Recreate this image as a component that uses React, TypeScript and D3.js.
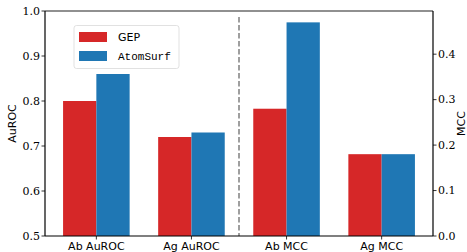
import React, { useEffect } from 'react';
import * as d3 from 'd3';

// chart values
const categories = ['Ab AuROC', 'Ag AuROC', 'Ab MCC', 'Ag MCC'];
const gepValues = [0.80, 0.72, 0.28, 0.18];
const atomSurfValues = [0.86, 0.73, 0.47, 0.18];
const usesRightAxis = [false, false, true, true];
const leftTicks = [0.5, 0.6, 0.7, 0.8, 0.9, 1.0];
const rightTicks = [0.0, 0.1, 0.2, 0.3, 0.4];
const seriesNames = ['GEP', 'AtomSurf'];
const seriesColors = ['#d62728', '#1f77b4'];

const W = 467;
const H = 252;
const margin = { top: 11, right: 34, bottom: 16, left: 45 };

const App = () => {
  useEffect(() => {
    document.body.style.margin = '0';
  }, []);

  const x0 = margin.left;
  const x1 = W - margin.right;
  const y0 = H - margin.bottom;
  const y1 = margin.top;

  const xScale = d3.scalePoint<string>().domain(categories).range([x0, x1]).padding(0.54);
  const yLeft = d3.scaleLinear().domain([0.5, 1.0]).range([y0, y1]);
  const yRight = d3.scaleLinear().domain([0, 0.495]).range([y0, y1]);
  const barW = xScale.step() * 0.35;

  const tickFont = '"DejaVu Serif", serif';
  const sans = '"DejaVu Sans", sans-serif';

  // dashed separator halfway between the AuROC and MCC groups
  const sepX = ((xScale('Ag AuROC') as number) + (xScale('Ab MCC') as number)) / 2;

  const series = [gepValues, atomSurfValues];

  return (
    <svg width={W} height={H} style={{ display: 'block' }}>
      <rect width={W} height={H} fill="#fff" />
      {series.map((vals, si) =>
        vals.map((v, i) => {
          const cx = xScale(categories[i]) as number;
          const ys = usesRightAxis[i] ? yRight : yLeft;
          const x = si === 0 ? cx - barW : cx;
          return (
            <rect key={`${si}-${i}`} x={x} y={ys(v)} width={barW} height={y0 - ys(v)} fill={seriesColors[si]} />
          );
        })
      )}
      <line x1={sepX} x2={sepX} y1={17} y2={y0} stroke="#808080" strokeWidth={1.5} strokeDasharray="5.5,2.5" />

      {/* spines */}
      <line x1={x0} x2={x1} y1={y1} y2={y1} stroke="#222" strokeWidth={1.2} />
      <line x1={x0} x2={x1} y1={y0} y2={y0} stroke="#000" strokeWidth={1.2} />
      <line x1={x0} x2={x0} y1={y1} y2={y0} stroke="#000" strokeWidth={1.2} />
      <line x1={x1} x2={x1} y1={y1} y2={y0} stroke="#000" strokeWidth={1.2} />

      {leftTicks.map(t => (
        <g key={`l${t}`}>
          <line x1={x0 - 3.5} x2={x0} y1={yLeft(t)} y2={yLeft(t)} stroke="#000" strokeWidth={0.8} />
          <text x={x0 - 5} y={yLeft(t)} dy="0.35em" textAnchor="end" fontFamily={tickFont} fontSize={11}>
            {t.toFixed(1)}
          </text>
        </g>
      ))}
      {rightTicks.map(t => (
        <g key={`r${t}`}>
          <line x1={x1} x2={x1 + 3.5} y1={yRight(t)} y2={yRight(t)} stroke="#000" strokeWidth={0.8} />
          <text x={x1 + 5} y={yRight(t)} dy="0.35em" textAnchor="start" fontFamily={tickFont} fontSize={11}>
            {t.toFixed(1)}
          </text>
        </g>
      ))}
      {categories.map(c => (
        <g key={c}>
          <line x1={xScale(c)} x2={xScale(c)} y1={y0} y2={y0 + 3.5} stroke="#000" strokeWidth={0.8} />
          <text x={xScale(c)} y={y0 + 14} textAnchor="middle" fontFamily={sans} fontSize={11}>
            {c}
          </text>
        </g>
      ))}

      <text transform={`translate(16,${(y0 + y1) / 2}) rotate(-90)`} textAnchor="middle" fontFamily={sans} fontSize={11}>
        AuROC
      </text>
      <text transform={`translate(465,${(y0 + y1) / 2}) rotate(-90)`} textAnchor="middle" fontFamily={sans} fontSize={11}>
        MCC
      </text>

      {/* legend */}
      <rect x={74} y={25.5} width={105} height={43} rx={2.5} fill="#fff" stroke="#d9d9d9" strokeWidth={0.8} />
      {seriesNames.map((n, i) => (
        <g key={n}>
          <rect x={79} y={32 + i * 19} width={28} height={10} fill={seriesColors[i]} />
          <text
            x={118}
            y={41 + i * 19}
            fontFamily={i === 0 ? sans : '"Liberation Mono", monospace'}
            fontSize={11}
          >
            {n}
          </text>
        </g>
      ))}
    </svg>
  );
};

export default App;
